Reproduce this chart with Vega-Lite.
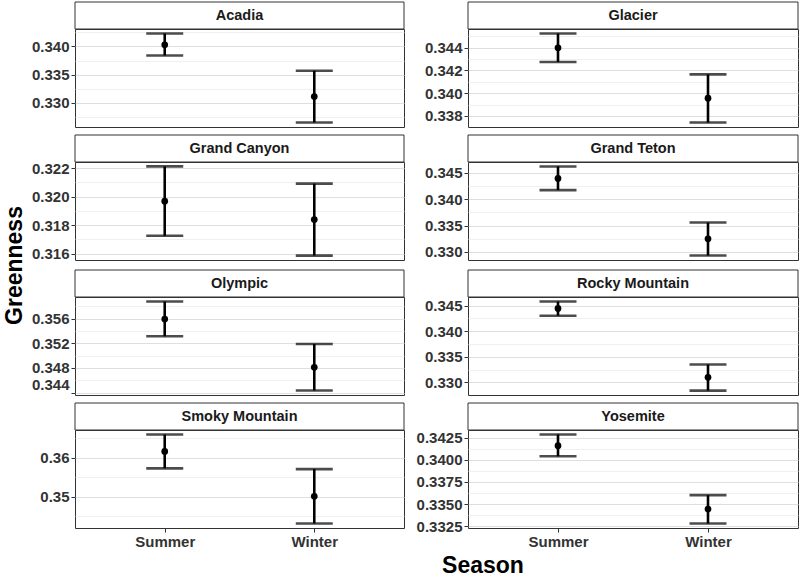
{
  "$schema": "https://vega.github.io/schema/vega-lite/v6.json",
  "padding": {"left": 4, "top": 1, "right": 0, "bottom": 0},
  "data": {"values": [
    {"park": "Acadia", "season": "Summer", "mean": 0.3403, "lo": 0.3384, "hi": 0.3423},
    {"park": "Acadia", "season": "Winter", "mean": 0.3311, "lo": 0.3265, "hi": 0.3357},
    {"park": "Glacier", "season": "Summer", "mean": 0.3440, "lo": 0.34275, "hi": 0.34526},
    {"park": "Glacier", "season": "Winter", "mean": 0.33956, "lo": 0.33741, "hi": 0.34165},
    {"park": "Grand Canyon", "season": "Summer", "mean": 0.31968, "lo": 0.31725, "hi": 0.32212},
    {"park": "Grand Canyon", "season": "Winter", "mean": 0.31839, "lo": 0.31586, "hi": 0.32091},
    {"park": "Grand Teton", "season": "Summer", "mean": 0.34394, "lo": 0.34172, "hi": 0.34621},
    {"park": "Grand Teton", "season": "Winter", "mean": 0.33248, "lo": 0.3293, "hi": 0.33557},
    {"park": "Olympic", "season": "Summer", "mean": 0.35595, "lo": 0.35316, "hi": 0.35882},
    {"park": "Olympic", "season": "Winter", "mean": 0.34811, "lo": 0.34433, "hi": 0.35189},
    {"park": "Rocky Mountain", "season": "Summer", "mean": 0.34448, "lo": 0.34305, "hi": 0.34584},
    {"park": "Rocky Mountain", "season": "Winter", "mean": 0.33098, "lo": 0.32838, "hi": 0.3335},
    {"park": "Smoky Mountain", "season": "Summer", "mean": 0.36162, "lo": 0.35726, "hi": 0.36598},
    {"park": "Smoky Mountain", "season": "Winter", "mean": 0.35008, "lo": 0.34308, "hi": 0.35708},
    {"park": "Yosemite", "season": "Summer", "mean": 0.3416, "lo": 0.3404, "hi": 0.34287},
    {"park": "Yosemite", "season": "Winter", "mean": 0.33444, "lo": 0.3328, "hi": 0.33601}
  ]},
  "spacing": 0,
  "hconcat": [
    {
      "width": 22, "height": 527,
      "view": {"stroke": null},
      "data": {"values": [{"label": "Greenness"}]},
      "mark": {"type": "text", "angle": 270, "fontSize": 23, "fontWeight": "bold", "color": "#000000"},
      "encoding": {"text": {"field": "label"}}
    },
    {
      "spacing": 5,
      "vconcat": [
        {
          "columns": 2,
          "align": "each",
          "spacing": {"row": 6, "column": 7},
          "concat": [
            {
              "spacing": 0, "bounds": "flush",
              "vconcat": [
                {"width": 329, "height": 27, "transform": [{"filter": "datum.park === 'Acadia' && datum.season === 'Summer'"}],
                 "layer": [
                   {"mark": {"type": "rect", "fill": "#ffffff", "stroke": "#333333", "strokeWidth": 1}, "encoding": {}},
                   {"mark": {"type": "text", "fontSize": 14.5, "fontWeight": "bold", "color": "#1a1a1a"}, "encoding": {"text": {"field": "park"}}}
                 ]},
                {"width": 329, "height": 98, "transform": [{"filter": "datum.park === 'Acadia'"}],
                 "encoding": {"x": {"field": "season", "type": "nominal", "scale": {"type": "point", "padding": 0.6}, "axis": {"title": null, "labels": false, "ticks": false}}},
                 "layer": [
                   {"mark": {"type": "rule", "strokeWidth": 2.6, "color": "#000000"},
                    "encoding": {"y": {"field": "lo", "type": "quantitative", "scale": {"domain": [0.3257, 0.3431], "nice": false, "zero": false},
                      "axis": {"title": null, "tickCount": 50, "values": [0.3275, 0.33, 0.3325, 0.335, 0.3375, 0.34, 0.3425], "format": ".3f", "minExtent": 47, "maxExtent": 47,
                        "labelExpr": "indexof([0.33, 0.335, 0.34], datum.value) >= 0 ? datum.label : ''",
                        "tickOpacity": {"condition": {"test": "indexof([0.33, 0.335, 0.34], datum.value) < 0", "value": 0}, "value": 1},
                        "gridColor": {"condition": {"test": "indexof([0.33, 0.335, 0.34], datum.value) < 0", "value": "#ececec"}, "value": "#dfdfdf"},
                        "gridWidth": {"condition": {"test": "indexof([0.33, 0.335, 0.34], datum.value) < 0", "value": 0.8}, "value": 1.2}}},
                      "y2": {"field": "hi"}}},
                   {"transform": [{"fold": ["lo", "hi"]}], "mark": {"type": "tick", "thickness": 2.6, "size": 37, "color": "#000000"},
                    "encoding": {"y": {"field": "value", "type": "quantitative", "title": null, "scale": {"domain": [0.3257, 0.3431], "nice": false, "zero": false}}}},
                   {"mark": {"type": "point", "filled": true, "size": 45, "color": "#000000", "opacity": 1},
                    "encoding": {"y": {"field": "mean", "type": "quantitative", "title": null, "scale": {"domain": [0.3257, 0.3431], "nice": false, "zero": false}}}}
                 ]}
              ]
            },
            {
              "spacing": 0, "bounds": "flush",
              "vconcat": [
                {"width": 330, "height": 27, "transform": [{"filter": "datum.park === 'Glacier' && datum.season === 'Summer'"}],
                 "layer": [
                   {"mark": {"type": "rect", "fill": "#ffffff", "stroke": "#333333", "strokeWidth": 1}, "encoding": {}},
                   {"mark": {"type": "text", "fontSize": 14.5, "fontWeight": "bold", "color": "#1a1a1a"}, "encoding": {"text": {"field": "park"}}}
                 ]},
                {"width": 330, "height": 98, "transform": [{"filter": "datum.park === 'Glacier'"}],
                 "encoding": {"x": {"field": "season", "type": "nominal", "scale": {"type": "point", "padding": 0.6}, "axis": {"title": null, "labels": false, "ticks": false}}},
                 "layer": [
                   {"mark": {"type": "rule", "strokeWidth": 2.6, "color": "#000000"},
                    "encoding": {"y": {"field": "lo", "type": "quantitative", "scale": {"domain": [0.33702, 0.34565], "nice": false, "zero": false},
                      "axis": {"title": null, "tickCount": 50, "values": [0.338, 0.339, 0.34, 0.341, 0.342, 0.343, 0.344, 0.345], "format": ".3f", "minExtent": 55, "maxExtent": 55,
                        "labelExpr": "indexof([0.338, 0.34, 0.342, 0.344], datum.value) >= 0 ? datum.label : ''",
                        "tickOpacity": {"condition": {"test": "indexof([0.338, 0.34, 0.342, 0.344], datum.value) < 0", "value": 0}, "value": 1},
                        "gridColor": {"condition": {"test": "indexof([0.338, 0.34, 0.342, 0.344], datum.value) < 0", "value": "#ececec"}, "value": "#dfdfdf"},
                        "gridWidth": {"condition": {"test": "indexof([0.338, 0.34, 0.342, 0.344], datum.value) < 0", "value": 0.8}, "value": 1.2}}},
                      "y2": {"field": "hi"}}},
                   {"transform": [{"fold": ["lo", "hi"]}], "mark": {"type": "tick", "thickness": 2.6, "size": 37, "color": "#000000"},
                    "encoding": {"y": {"field": "value", "type": "quantitative", "title": null, "scale": {"domain": [0.33702, 0.34565], "nice": false, "zero": false}}}},
                   {"mark": {"type": "point", "filled": true, "size": 45, "color": "#000000", "opacity": 1},
                    "encoding": {"y": {"field": "mean", "type": "quantitative", "title": null, "scale": {"domain": [0.33702, 0.34565], "nice": false, "zero": false}}}}
                 ]}
              ]
            },
            {
              "spacing": 0, "bounds": "flush",
              "vconcat": [
                {"width": 329, "height": 27, "transform": [{"filter": "datum.park === 'Grand Canyon' && datum.season === 'Summer'"}],
                 "layer": [
                   {"mark": {"type": "rect", "fill": "#ffffff", "stroke": "#333333", "strokeWidth": 1}, "encoding": {}},
                   {"mark": {"type": "text", "fontSize": 14.5, "fontWeight": "bold", "color": "#1a1a1a"}, "encoding": {"text": {"field": "park"}}}
                 ]},
                {"width": 329, "height": 98, "transform": [{"filter": "datum.park === 'Grand Canyon'"}],
                 "encoding": {"x": {"field": "season", "type": "nominal", "scale": {"type": "point", "padding": 0.6}, "axis": {"title": null, "labels": false, "ticks": false}}},
                 "layer": [
                   {"mark": {"type": "rule", "strokeWidth": 2.6, "color": "#000000"},
                    "encoding": {"y": {"field": "lo", "type": "quantitative", "scale": {"domain": [0.31555, 0.32243], "nice": false, "zero": false},
                      "axis": {"title": null, "tickCount": 50, "values": [0.316, 0.317, 0.318, 0.319, 0.32, 0.321, 0.322], "format": ".3f", "minExtent": 47, "maxExtent": 47,
                        "labelExpr": "indexof([0.316, 0.318, 0.32, 0.322], datum.value) >= 0 ? datum.label : ''",
                        "tickOpacity": {"condition": {"test": "indexof([0.316, 0.318, 0.32, 0.322], datum.value) < 0", "value": 0}, "value": 1},
                        "gridColor": {"condition": {"test": "indexof([0.316, 0.318, 0.32, 0.322], datum.value) < 0", "value": "#ececec"}, "value": "#dfdfdf"},
                        "gridWidth": {"condition": {"test": "indexof([0.316, 0.318, 0.32, 0.322], datum.value) < 0", "value": 0.8}, "value": 1.2}}},
                      "y2": {"field": "hi"}}},
                   {"transform": [{"fold": ["lo", "hi"]}], "mark": {"type": "tick", "thickness": 2.6, "size": 37, "color": "#000000"},
                    "encoding": {"y": {"field": "value", "type": "quantitative", "title": null, "scale": {"domain": [0.31555, 0.32243], "nice": false, "zero": false}}}},
                   {"mark": {"type": "point", "filled": true, "size": 45, "color": "#000000", "opacity": 1},
                    "encoding": {"y": {"field": "mean", "type": "quantitative", "title": null, "scale": {"domain": [0.31555, 0.32243], "nice": false, "zero": false}}}}
                 ]}
              ]
            },
            {
              "spacing": 0, "bounds": "flush",
              "vconcat": [
                {"width": 330, "height": 27, "transform": [{"filter": "datum.park === 'Grand Teton' && datum.season === 'Summer'"}],
                 "layer": [
                   {"mark": {"type": "rect", "fill": "#ffffff", "stroke": "#333333", "strokeWidth": 1}, "encoding": {}},
                   {"mark": {"type": "text", "fontSize": 14.5, "fontWeight": "bold", "color": "#1a1a1a"}, "encoding": {"text": {"field": "park"}}}
                 ]},
                {"width": 330, "height": 98, "transform": [{"filter": "datum.park === 'Grand Teton'"}],
                 "encoding": {"x": {"field": "season", "type": "nominal", "scale": {"type": "point", "padding": 0.6}, "axis": {"title": null, "labels": false, "ticks": false}}},
                 "layer": [
                   {"mark": {"type": "rule", "strokeWidth": 2.6, "color": "#000000"},
                    "encoding": {"y": {"field": "lo", "type": "quantitative", "scale": {"domain": [0.32846, 0.34705], "nice": false, "zero": false},
                      "axis": {"title": null, "tickCount": 50, "values": [0.33, 0.3325, 0.335, 0.3375, 0.34, 0.3425, 0.345], "format": ".3f", "minExtent": 55, "maxExtent": 55,
                        "labelExpr": "indexof([0.33, 0.335, 0.34, 0.345], datum.value) >= 0 ? datum.label : ''",
                        "tickOpacity": {"condition": {"test": "indexof([0.33, 0.335, 0.34, 0.345], datum.value) < 0", "value": 0}, "value": 1},
                        "gridColor": {"condition": {"test": "indexof([0.33, 0.335, 0.34, 0.345], datum.value) < 0", "value": "#ececec"}, "value": "#dfdfdf"},
                        "gridWidth": {"condition": {"test": "indexof([0.33, 0.335, 0.34, 0.345], datum.value) < 0", "value": 0.8}, "value": 1.2}}},
                      "y2": {"field": "hi"}}},
                   {"transform": [{"fold": ["lo", "hi"]}], "mark": {"type": "tick", "thickness": 2.6, "size": 37, "color": "#000000"},
                    "encoding": {"y": {"field": "value", "type": "quantitative", "title": null, "scale": {"domain": [0.32846, 0.34705], "nice": false, "zero": false}}}},
                   {"mark": {"type": "point", "filled": true, "size": 45, "color": "#000000", "opacity": 1},
                    "encoding": {"y": {"field": "mean", "type": "quantitative", "title": null, "scale": {"domain": [0.32846, 0.34705], "nice": false, "zero": false}}}}
                 ]}
              ]
            },
            {
              "spacing": 0, "bounds": "flush",
              "vconcat": [
                {"width": 329, "height": 27, "transform": [{"filter": "datum.park === 'Olympic' && datum.season === 'Summer'"}],
                 "layer": [
                   {"mark": {"type": "rect", "fill": "#ffffff", "stroke": "#333333", "strokeWidth": 1}, "encoding": {}},
                   {"mark": {"type": "text", "fontSize": 14.5, "fontWeight": "bold", "color": "#1a1a1a"}, "encoding": {"text": {"field": "park"}}}
                 ]},
                {"width": 329, "height": 98, "transform": [{"filter": "datum.park === 'Olympic'"}],
                 "encoding": {"x": {"field": "season", "type": "nominal", "scale": {"type": "point", "padding": 0.6}, "axis": {"title": null, "labels": false, "ticks": false}}},
                 "layer": [
                   {"mark": {"type": "rule", "strokeWidth": 2.6, "color": "#000000"},
                    "encoding": {"y": {"field": "lo", "type": "quantitative", "scale": {"domain": [0.34361, 0.35954], "nice": false, "zero": false},
                      "axis": {"title": null, "tickCount": 50, "values": [0.344, 0.346, 0.348, 0.35, 0.352, 0.354, 0.356, 0.358], "format": ".3f", "minExtent": 47, "maxExtent": 47,
                        "labelFlush": 5,
                        "labelExpr": "indexof([0.344, 0.348, 0.352, 0.356], datum.value) >= 0 ? datum.label : ''",
                        "tickOpacity": {"condition": {"test": "indexof([0.344, 0.348, 0.352, 0.356], datum.value) < 0", "value": 0}, "value": 1},
                        "gridColor": {"condition": {"test": "indexof([0.344, 0.348, 0.352, 0.356], datum.value) < 0", "value": "#ececec"}, "value": "#dfdfdf"},
                        "gridWidth": {"condition": {"test": "indexof([0.344, 0.348, 0.352, 0.356], datum.value) < 0", "value": 0.8}, "value": 1.2}}},
                      "y2": {"field": "hi"}}},
                   {"transform": [{"fold": ["lo", "hi"]}], "mark": {"type": "tick", "thickness": 2.6, "size": 37, "color": "#000000"},
                    "encoding": {"y": {"field": "value", "type": "quantitative", "title": null, "scale": {"domain": [0.34361, 0.35954], "nice": false, "zero": false}}}},
                   {"mark": {"type": "point", "filled": true, "size": 45, "color": "#000000", "opacity": 1},
                    "encoding": {"y": {"field": "mean", "type": "quantitative", "title": null, "scale": {"domain": [0.34361, 0.35954], "nice": false, "zero": false}}}}
                 ]}
              ]
            },
            {
              "spacing": 0, "bounds": "flush",
              "vconcat": [
                {"width": 330, "height": 27, "transform": [{"filter": "datum.park === 'Rocky Mountain' && datum.season === 'Summer'"}],
                 "layer": [
                   {"mark": {"type": "rect", "fill": "#ffffff", "stroke": "#333333", "strokeWidth": 1}, "encoding": {}},
                   {"mark": {"type": "text", "fontSize": 14.5, "fontWeight": "bold", "color": "#1a1a1a"}, "encoding": {"text": {"field": "park"}}}
                 ]},
                {"width": 330, "height": 98, "transform": [{"filter": "datum.park === 'Rocky Mountain'"}],
                 "encoding": {"x": {"field": "season", "type": "nominal", "scale": {"type": "point", "padding": 0.6}, "axis": {"title": null, "labels": false, "ticks": false}}},
                 "layer": [
                   {"mark": {"type": "rule", "strokeWidth": 2.6, "color": "#000000"},
                    "encoding": {"y": {"field": "lo", "type": "quantitative", "scale": {"domain": [0.32752, 0.34671], "nice": false, "zero": false},
                      "axis": {"title": null, "tickCount": 50, "values": [0.33, 0.3325, 0.335, 0.3375, 0.34, 0.3425, 0.345], "format": ".3f", "minExtent": 55, "maxExtent": 55,
                        "labelExpr": "indexof([0.33, 0.335, 0.34, 0.345], datum.value) >= 0 ? datum.label : ''",
                        "tickOpacity": {"condition": {"test": "indexof([0.33, 0.335, 0.34, 0.345], datum.value) < 0", "value": 0}, "value": 1},
                        "gridColor": {"condition": {"test": "indexof([0.33, 0.335, 0.34, 0.345], datum.value) < 0", "value": "#ececec"}, "value": "#dfdfdf"},
                        "gridWidth": {"condition": {"test": "indexof([0.33, 0.335, 0.34, 0.345], datum.value) < 0", "value": 0.8}, "value": 1.2}}},
                      "y2": {"field": "hi"}}},
                   {"transform": [{"fold": ["lo", "hi"]}], "mark": {"type": "tick", "thickness": 2.6, "size": 37, "color": "#000000"},
                    "encoding": {"y": {"field": "value", "type": "quantitative", "title": null, "scale": {"domain": [0.32752, 0.34671], "nice": false, "zero": false}}}},
                   {"mark": {"type": "point", "filled": true, "size": 45, "color": "#000000", "opacity": 1},
                    "encoding": {"y": {"field": "mean", "type": "quantitative", "title": null, "scale": {"domain": [0.32752, 0.34671], "nice": false, "zero": false}}}}
                 ]}
              ]
            },
            {
              "spacing": 0, "bounds": "flush",
              "vconcat": [
                {"width": 329, "height": 27, "transform": [{"filter": "datum.park === 'Smoky Mountain' && datum.season === 'Summer'"}],
                 "layer": [
                   {"mark": {"type": "rect", "fill": "#ffffff", "stroke": "#333333", "strokeWidth": 1}, "encoding": {}},
                   {"mark": {"type": "text", "fontSize": 14.5, "fontWeight": "bold", "color": "#1a1a1a"}, "encoding": {"text": {"field": "park"}}}
                 ]},
                {"width": 329, "height": 98, "transform": [{"filter": "datum.park === 'Smoky Mountain'"}],
                 "encoding": {"x": {"field": "season", "type": "nominal", "scale": {"type": "point", "padding": 0.6}, "axis": {"title": null}}},
                 "layer": [
                   {"mark": {"type": "rule", "strokeWidth": 2.6, "color": "#000000"},
                    "encoding": {"y": {"field": "lo", "type": "quantitative", "scale": {"domain": [0.34193, 0.36713], "nice": false, "zero": false},
                      "axis": {"title": null, "tickCount": 50, "values": [0.345, 0.35, 0.355, 0.36, 0.365], "format": ".2f", "minExtent": 47, "maxExtent": 47,
                        "labelExpr": "indexof([0.35, 0.36], datum.value) >= 0 ? datum.label : ''",
                        "tickOpacity": {"condition": {"test": "indexof([0.35, 0.36], datum.value) < 0", "value": 0}, "value": 1},
                        "gridColor": {"condition": {"test": "indexof([0.35, 0.36], datum.value) < 0", "value": "#ececec"}, "value": "#dfdfdf"},
                        "gridWidth": {"condition": {"test": "indexof([0.35, 0.36], datum.value) < 0", "value": 0.8}, "value": 1.2}}},
                      "y2": {"field": "hi"}}},
                   {"transform": [{"fold": ["lo", "hi"]}], "mark": {"type": "tick", "thickness": 2.6, "size": 37, "color": "#000000"},
                    "encoding": {"y": {"field": "value", "type": "quantitative", "title": null, "scale": {"domain": [0.34193, 0.36713], "nice": false, "zero": false}}}},
                   {"mark": {"type": "point", "filled": true, "size": 45, "color": "#000000", "opacity": 1},
                    "encoding": {"y": {"field": "mean", "type": "quantitative", "title": null, "scale": {"domain": [0.34193, 0.36713], "nice": false, "zero": false}}}}
                 ]}
              ]
            },
            {
              "spacing": 0, "bounds": "flush",
              "vconcat": [
                {"width": 330, "height": 27, "transform": [{"filter": "datum.park === 'Yosemite' && datum.season === 'Summer'"}],
                 "layer": [
                   {"mark": {"type": "rect", "fill": "#ffffff", "stroke": "#333333", "strokeWidth": 1}, "encoding": {}},
                   {"mark": {"type": "text", "fontSize": 14.5, "fontWeight": "bold", "color": "#1a1a1a"}, "encoding": {"text": {"field": "park"}}}
                 ]},
                {"width": 330, "height": 98, "transform": [{"filter": "datum.park === 'Yosemite'"}],
                 "encoding": {"x": {"field": "season", "type": "nominal", "scale": {"type": "point", "padding": 0.6}, "axis": {"title": null}}},
                 "layer": [
                   {"mark": {"type": "rule", "strokeWidth": 2.6, "color": "#000000"},
                    "encoding": {"y": {"field": "lo", "type": "quantitative", "scale": {"domain": [0.3323, 0.34337], "nice": false, "zero": false},
                      "axis": {"title": null, "tickCount": 50, "values": [0.3325, 0.33375, 0.335, 0.33625, 0.3375, 0.33875, 0.34, 0.34125, 0.3425], "format": ".4f", "minExtent": 55, "maxExtent": 55,
                        "labelExpr": "indexof([0.3325, 0.335, 0.3375, 0.34, 0.3425], datum.value) >= 0 ? datum.label : ''",
                        "tickOpacity": {"condition": {"test": "indexof([0.3325, 0.335, 0.3375, 0.34, 0.3425], datum.value) < 0", "value": 0}, "value": 1},
                        "gridColor": {"condition": {"test": "indexof([0.3325, 0.335, 0.3375, 0.34, 0.3425], datum.value) < 0", "value": "#ececec"}, "value": "#dfdfdf"},
                        "gridWidth": {"condition": {"test": "indexof([0.3325, 0.335, 0.3375, 0.34, 0.3425], datum.value) < 0", "value": 0.8}, "value": 1.2}}},
                      "y2": {"field": "hi"}}},
                   {"transform": [{"fold": ["lo", "hi"]}], "mark": {"type": "tick", "thickness": 2.6, "size": 37, "color": "#000000"},
                    "encoding": {"y": {"field": "value", "type": "quantitative", "title": null, "scale": {"domain": [0.3323, 0.34337], "nice": false, "zero": false}}}},
                   {"mark": {"type": "point", "filled": true, "size": 45, "color": "#000000", "opacity": 1},
                    "encoding": {"y": {"field": "mean", "type": "quantitative", "title": null, "scale": {"domain": [0.3323, 0.34337], "nice": false, "zero": false}}}}
                 ]}
              ]
            }
          ]
        },
        {
          "width": 770, "height": 22,
          "view": {"stroke": null},
          "data": {"values": [{"label": "Season"}]},
          "mark": {"type": "text", "fontSize": 23, "fontWeight": "bold", "color": "#000000", "dx": 23},
          "encoding": {"text": {"field": "label"}}
        }
      ]
    }
  ],
  "config": {
    "font": "Liberation Sans",
    "view": {"stroke": "#333333", "strokeWidth": 1},
    "axis": {"domain": false, "labelFont": "Liberation Sans", "labelFontWeight": "bold", "labelFontSize": 15, "labelColor": "#333333",
             "labelOverlap": false, "labelBound": false,
             "tickColor": "#333333", "tickSize": 4, "tickWidth": 1, "labelPadding": 2, "gridColor": "#dfdfdf", "gridWidth": 1.2},
    "axisX": {"labelAngle": 0},
    "text": {"font": "Liberation Sans"}
  }
}
